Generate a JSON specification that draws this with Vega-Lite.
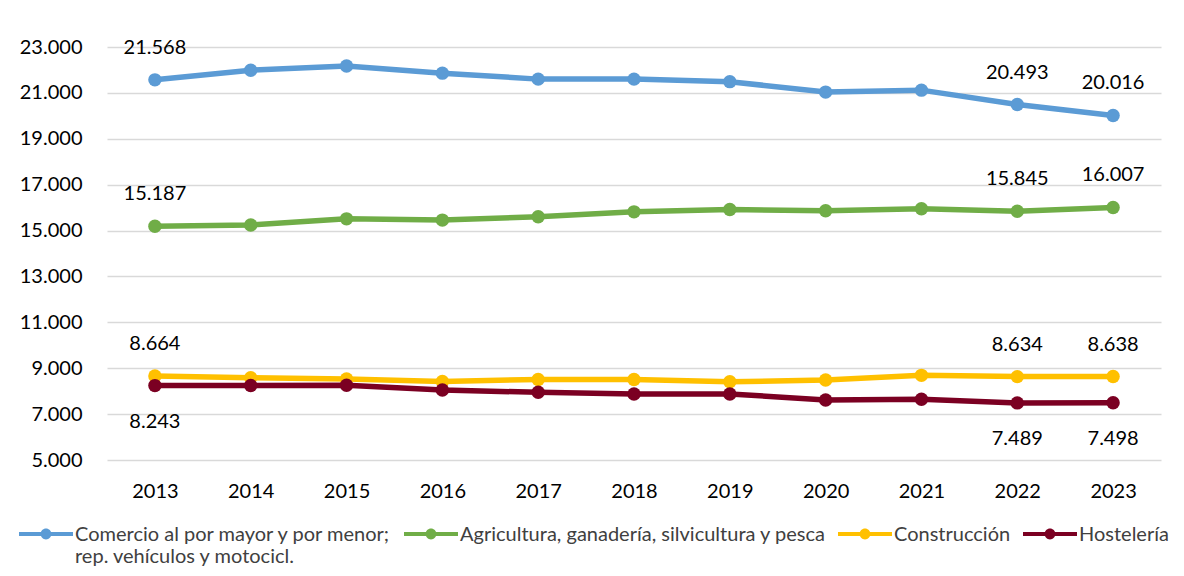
{
  "$schema": "https://vega.github.io/schema/vega-lite/v6.json",
  "width": 1054,
  "height": 413,
  "autosize": {"type": "none"},
  "padding": {"left": 107, "top": 47, "right": 23, "bottom": 116},
  "background": "white",
  "config": {
    "locale": {"number": {"decimal": ",", "thousands": ".", "grouping": [3], "currency": ["", " €"]}},
    "font": "Lato",
    "view": {"stroke": null},
    "axis": {"labelFont": "Lato", "labelFontSize": 20, "labelColor": "#000000", "gridColor": "#D9D9D9", "gridWidth": 1.5}
  },
  "data": {
    "values": [
      {"year": "2013", "series": "Comercio al por mayor y por menor; rep. vehículos y motocicl.", "value": 21568},
      {"year": "2014", "series": "Comercio al por mayor y por menor; rep. vehículos y motocicl.", "value": 21990},
      {"year": "2015", "series": "Comercio al por mayor y por menor; rep. vehículos y motocicl.", "value": 22170},
      {"year": "2016", "series": "Comercio al por mayor y por menor; rep. vehículos y motocicl.", "value": 21860},
      {"year": "2017", "series": "Comercio al por mayor y por menor; rep. vehículos y motocicl.", "value": 21600},
      {"year": "2018", "series": "Comercio al por mayor y por menor; rep. vehículos y motocicl.", "value": 21600},
      {"year": "2019", "series": "Comercio al por mayor y por menor; rep. vehículos y motocicl.", "value": 21490},
      {"year": "2020", "series": "Comercio al por mayor y por menor; rep. vehículos y motocicl.", "value": 21035},
      {"year": "2021", "series": "Comercio al por mayor y por menor; rep. vehículos y motocicl.", "value": 21120},
      {"year": "2022", "series": "Comercio al por mayor y por menor; rep. vehículos y motocicl.", "value": 20493},
      {"year": "2023", "series": "Comercio al por mayor y por menor; rep. vehículos y motocicl.", "value": 20016},
      {"year": "2013", "series": "Agricultura, ganadería, silvicultura y pesca", "value": 15187},
      {"year": "2014", "series": "Agricultura, ganadería, silvicultura y pesca", "value": 15240},
      {"year": "2015", "series": "Agricultura, ganadería, silvicultura y pesca", "value": 15510},
      {"year": "2016", "series": "Agricultura, ganadería, silvicultura y pesca", "value": 15455},
      {"year": "2017", "series": "Agricultura, ganadería, silvicultura y pesca", "value": 15600},
      {"year": "2018", "series": "Agricultura, ganadería, silvicultura y pesca", "value": 15815},
      {"year": "2019", "series": "Agricultura, ganadería, silvicultura y pesca", "value": 15920},
      {"year": "2020", "series": "Agricultura, ganadería, silvicultura y pesca", "value": 15860},
      {"year": "2021", "series": "Agricultura, ganadería, silvicultura y pesca", "value": 15950},
      {"year": "2022", "series": "Agricultura, ganadería, silvicultura y pesca", "value": 15845},
      {"year": "2023", "series": "Agricultura, ganadería, silvicultura y pesca", "value": 16007},
      {"year": "2013", "series": "Construcción", "value": 8664},
      {"year": "2014", "series": "Construcción", "value": 8585},
      {"year": "2015", "series": "Construcción", "value": 8530},
      {"year": "2016", "series": "Construcción", "value": 8420},
      {"year": "2017", "series": "Construcción", "value": 8510},
      {"year": "2018", "series": "Construcción", "value": 8505},
      {"year": "2019", "series": "Construcción", "value": 8410},
      {"year": "2020", "series": "Construcción", "value": 8485},
      {"year": "2021", "series": "Construcción", "value": 8690},
      {"year": "2022", "series": "Construcción", "value": 8634},
      {"year": "2023", "series": "Construcción", "value": 8638},
      {"year": "2013", "series": "Hostelería", "value": 8243},
      {"year": "2014", "series": "Hostelería", "value": 8250},
      {"year": "2015", "series": "Hostelería", "value": 8260},
      {"year": "2016", "series": "Hostelería", "value": 8050},
      {"year": "2017", "series": "Hostelería", "value": 7950},
      {"year": "2018", "series": "Hostelería", "value": 7880},
      {"year": "2019", "series": "Hostelería", "value": 7880},
      {"year": "2020", "series": "Hostelería", "value": 7615},
      {"year": "2021", "series": "Hostelería", "value": 7645},
      {"year": "2022", "series": "Hostelería", "value": 7489},
      {"year": "2023", "series": "Hostelería", "value": 7498}
    ]
  },
  "encoding": {
    "x": {"field": "year", "type": "ordinal", "title": null,
      "scale": {"paddingInner": 0, "paddingOuter": 0.5},
      "axis": {"labelAngle": 0, "domain": false, "ticks": false, "labelPadding": 21, "grid": false}},
    "y": {"field": "value", "type": "quantitative", "title": null,
      "scale": {"domain": [5000, 23000], "nice": false, "zero": false},
      "axis": {"values": [5000, 7000, 9000, 11000, 13000, 15000, 17000, 19000, 21000, 23000], "format": ",.0f", "domain": false, "ticks": false, "labelPadding": 25}},
    "color": {"field": "series", "type": "nominal", "title": null,
      "sort": ["Comercio al por mayor y por menor; rep. vehículos y motocicl.", "Agricultura, ganadería, silvicultura y pesca", "Construcción", "Hostelería"],
      "scale": {"domain": ["Comercio al por mayor y por menor; rep. vehículos y motocicl.", "Agricultura, ganadería, silvicultura y pesca", "Construcción", "Hostelería"], "range": ["#5B9BD5", "#70AD47", "#FFC000", "#7B0022"]},
      "legend": {"orient": "none", "direction": "horizontal", "legendX": -88, "legendY": 451,
        "labelFont": "Lato", "labelFontSize": 20, "labelColor": "#404040", "labelLimit": 600, "labelBaseline": "top", "labelOffset": 2, "columnPadding": 12,
        "symbolType": "M-1,0.259H1V0.407H-1Z M-0.2,0.333A0.2,0.2 0 1,1 0.2,0.333A0.2,0.2 0 1,1 -0.2,0.333Z",
        "symbolSize": 2916, "symbolStrokeWidth": 0, "symbolOpacity": 1,
        "encoding": {"labels": {"update": {"lineHeight": {"value": 26}}}},
        "labelExpr": "indexof(datum.label, ';') > 0 ? [slice(datum.label, 0, indexof(datum.label, ';') + 1), trim(slice(datum.label, indexof(datum.label, ';') + 1))] : [datum.label, ' ']"}}
  },
  "layer": [
    {"mark": {"type": "line", "strokeWidth": 5.5}},
    {"mark": {"type": "point", "filled": true, "size": 180, "opacity": 1}},
    {"transform": [{"filter": "(datum.year == '2013' || datum.year == '2022' || datum.year == '2023') && datum.series != 'Hostelería'"}],
      "mark": {"type": "text", "dy": -32, "fontSize": 20, "font": "Lato", "color": "#000000"},
      "encoding": {"text": {"field": "value", "type": "quantitative", "format": ",.0f"}, "color": {"value": "#000000"}}},
    {"transform": [{"filter": "(datum.year == '2013' || datum.year == '2022' || datum.year == '2023') && datum.series == 'Hostelería'"}],
      "mark": {"type": "text", "dy": 36, "fontSize": 20, "font": "Lato", "color": "#000000"},
      "encoding": {"text": {"field": "value", "type": "quantitative", "format": ",.0f"}, "color": {"value": "#000000"}}}
  ]
}
